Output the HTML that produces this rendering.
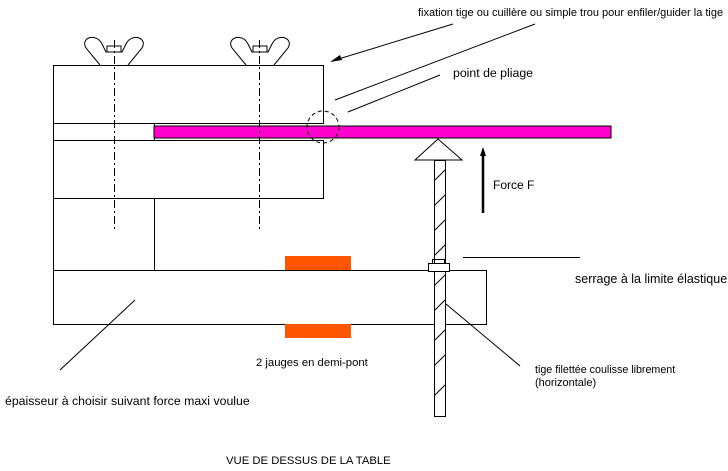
<!DOCTYPE html>
<html><head><style>body{margin:0;background:#fff}svg{display:block}text{font-family:"Liberation Sans",sans-serif;fill:#000}</style></head>
<body>
<svg width="728" height="471" viewBox="0 0 728 471" xmlns="http://www.w3.org/2000/svg" font-size="11">
<g fill="none" stroke="#000" stroke-width="1">
<rect x="53.5" y="65.5" width="270" height="58"/>
<rect x="53.5" y="123.5" width="101" height="17"/>
<rect x="53.5" y="140.5" width="270" height="58"/>
<line x1="53.5" y1="198" x2="53.5" y2="270"/>
<line x1="154.5" y1="198" x2="154.5" y2="270"/>
<rect x="53.5" y="270.5" width="433" height="54"/>
</g>
<rect x="154" y="126" width="457" height="12" fill="#ff00cc" stroke="#000"/>
<rect x="285" y="256" width="66" height="14" fill="#ff5500"/>
<rect x="285" y="324" width="66" height="14" fill="#ff5500"/>
<g stroke="#000" stroke-dasharray="8,3,2,3" fill="none">
<line x1="114.5" y1="40" x2="114.5" y2="230"/>
<line x1="259.5" y1="40" x2="259.5" y2="230"/>
</g>
<circle cx="323" cy="127" r="16" fill="none" stroke="#000" stroke-dasharray="4,3"/>
<g fill="none" stroke="#000">
<path d="M100,65 L86,48 C80,38 96,32 102,44 L106,52 L122,52 L126,44 C132,32 148,38 142,48 L128,65"/>
<rect x="107" y="46" width="14" height="6"/>
<path d="M246,65 L232,48 C226,38 242,32 248,44 L252,52 L268,52 L272,44 C278,32 294,38 288,48 L274,65"/>
<rect x="253" y="46" width="14" height="6"/>
<polygon points="438,139 415,160 462,160" fill="#fff"/>
<rect x="434.5" y="160.5" width="11" height="256" fill="#fff"/>
<path d="M435,180 l10,-10 M435,205 l10,-10 M435,230 l10,-10 M435,255 l10,-10 M435,285 l10,-10 M435,310 l10,-10 M435,340 l10,-10 M435,365 l10,-10 M435,395 l10,-10"/>
<rect x="428.5" y="263.5" width="21" height="8" fill="#fff"/>
<rect x="432.5" y="259.5" width="12" height="4"/>
<line x1="463" y1="257.5" x2="580" y2="257.5"/>
<line x1="446" y1="304" x2="520" y2="366"/>
<line x1="135" y1="300" x2="60" y2="370"/>
<line x1="453" y1="24" x2="332" y2="61"/>
<line x1="535" y1="24" x2="335" y2="100"/>
<line x1="440" y1="75" x2="348" y2="112"/>
</g>
<polygon points="330,62 340,55 342,60" fill="#000"/>
<line x1="483" y1="152" x2="483" y2="213" stroke="#000" stroke-width="2.5"/>
<polygon points="483,147 480,156 486,156" fill="#000"/>
<text x="418" y="16" font-size="11">fixation tige ou cuillère ou simple trou pour enfiler/guider  la tige</text>
<text x="453" y="77" font-size="12.3">point de pliage</text>
<text x="493" y="189" font-size="12">Force F</text>
<text x="575" y="283" font-size="12.5">serrage à la limite élastique</text>
<text x="256" y="366" font-size="11.3">2 jauges en demi-pont</text>
<text x="535" y="373" font-size="10.7">tige filettée coulisse librement</text>
<text x="535" y="386" font-size="11">(horizontale)</text>
<text x="5" y="405" font-size="12.3">épaisseur à choisir suivant force maxi voulue</text>
<text x="226" y="464" font-size="11.3">VUE DE DESSUS DE LA TABLE</text>
</svg>
</body></html>
